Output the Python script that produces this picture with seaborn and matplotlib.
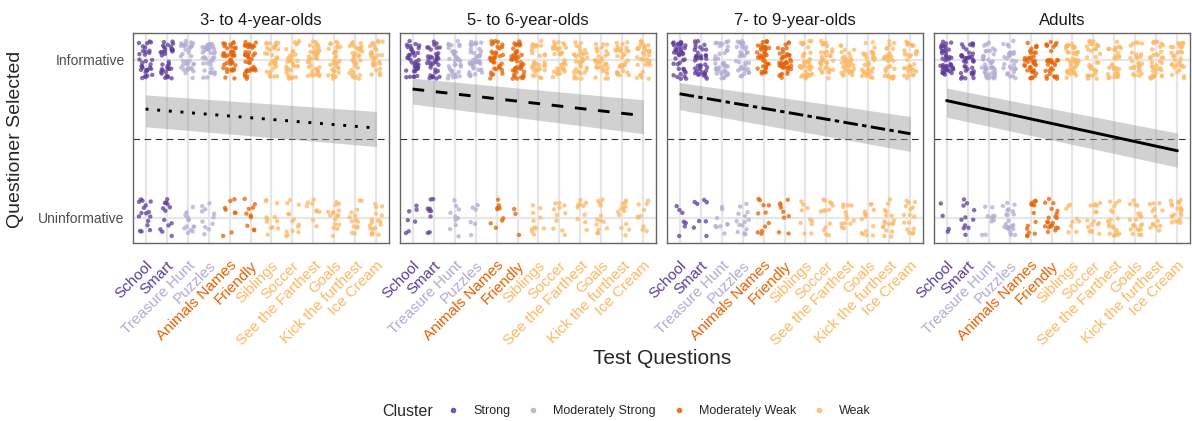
import numpy as np
import pandas as pd
import matplotlib
matplotlib.use("Agg")
import matplotlib.pyplot as plt
from matplotlib.lines import Line2D
import seaborn as sns

sns.set_style("white")
plt.rcParams['font.family'] = ['Liberation Sans', 'DejaVu Sans']

# ---------------- data ----------------
questions = ["School", "Smart", "Treasure Hunt", "Puzzles", "Animals Names", "Friendly",
             "Siblings", "Soccer", "See the Farthest", "Goals", "Kick the furthest", "Ice Cream"]
clusters = ["Strong", "Strong", "Moderately Strong", "Moderately Strong",
            "Moderately Weak", "Moderately Weak", "Weak", "Weak", "Weak", "Weak", "Weak", "Weak"]
cluster_order = ["Strong", "Moderately Strong", "Moderately Weak", "Weak"]
cluster_colors = ["#5e3c99", "#b2abd2", "#e66101", "#fdb863"]

groups = ["3- to 4-year-olds", "5- to 6-year-olds", "7- to 9-year-olds", "Adults"]

# informative / uninformative choice counts per question
informative_34 = [32, 35, 35, 37, 40, 38, 36, 34, 39, 32, 34, 30]
uninformative_34 = [16, 13, 13, 11, 8, 10, 12, 14, 9, 16, 14, 18]
informative_56 = [38, 36, 35, 39, 36, 42, 34, 34, 35, 32, 32, 35]
uninformative_56 = [7, 9, 10, 6, 9, 3, 11, 11, 10, 13, 13, 10]
informative_79 = [41, 40, 39, 34, 37, 39, 38, 34, 35, 34, 30, 32]
uninformative_79 = [7, 8, 9, 14, 11, 9, 10, 14, 13, 14, 18, 16]
informative_ad = [46, 39, 40, 28, 36, 30, 41, 33, 30, 28, 36, 30]
uninformative_ad = [4, 11, 10, 22, 14, 20, 9, 17, 20, 22, 14, 20]

# fitted probability line and 95% CI at first and last question
fit_start = [0.688, 0.815, 0.785, 0.742]
fit_end = [0.568, 0.646, 0.532, 0.424]
ci_low_start = [0.576, 0.720, 0.684, 0.637]
ci_high_start = [0.778, 0.884, 0.856, 0.821]
ci_low_end = [0.451, 0.532, 0.420, 0.320]
ci_high_end = [0.673, 0.747, 0.641, 0.536]
line_styles = [(0, (1, 3)), (0, (4, 4)), (0, (5, 1.5, 1.5, 1.5)), "-"]

informative = [informative_34, informative_56, informative_79, informative_ad]
uninformative = [uninformative_34, uninformative_56, uninformative_79, uninformative_ad]

# expand counts into individual responses (with jitter for display)
rng = np.random.default_rng(7)
rows = []
for g, grp in enumerate(groups):
    for q, (qname, cl) in enumerate(zip(questions, clusters)):
        for val, n in ((1, informative[g][q]), (0, uninformative[g][q])):
            for _ in range(n):
                rows.append(dict(group=grp, qi=q, cluster=cl, y=val))
df = pd.DataFrame(rows)
df["xj"] = df["qi"] + rng.uniform(-0.32, 0.32, len(df))
df["yj"] = df["y"] + rng.uniform(-0.12, 0.12, len(df))

palette = dict(zip(cluster_order, cluster_colors))
label_colors = [palette[c] for c in clusters]

# ---------------- figure ----------------
W, H = 1192, 421
fig = plt.figure(figsize=(W / 100, H / 100), dpi=100)
lefts = [133, 400, 667, 934]
pw = 256
top, bottom = 33, 243

for g, grp in enumerate(groups):
    ax = fig.add_axes([lefts[g] / W, (H - bottom) / H, pw / W, (bottom - top) / H])
    sub = df[df.group == grp]
    # grid
    for q in range(len(questions)):
        ax.axvline(q, color="#e6e6e6", lw=1.6, zorder=0)
    for yv in (0, 1):
        ax.axhline(yv, color="#e6e6e6", lw=1.6, zorder=0)
    ax.axhline(0.5, color="#333333", lw=0.8, ls=(0, (6, 4)), zorder=1)
    sns.scatterplot(data=sub, x="xj", y="yj", hue="cluster", hue_order=cluster_order,
                    palette=palette, s=10, alpha=0.75, linewidth=0, legend=False, ax=ax, zorder=2)
    xs = [0, len(questions) - 1]
    ax.fill_between(xs, [ci_low_start[g], ci_low_end[g]], [ci_high_start[g], ci_high_end[g]],
                    color="#999999", alpha=0.45, linewidth=0, zorder=3)
    sns.lineplot(x=xs, y=[fit_start[g], fit_end[g]], color="black", lw=2.1, ax=ax, zorder=4,
                 linestyle=line_styles[g])
    ax.set_xlim(-0.6, len(questions) - 0.4)
    ax.set_ylim(-0.16, 1.17)
    ax.set_xticks(range(len(questions)))
    ax.set_xticklabels(questions, rotation=45, ha="right", va="top", rotation_mode="anchor",
                       fontsize=11)
    for t, c in zip(ax.get_xticklabels(), label_colors):
        t.set_color(c)
    ax.set_yticks([0, 1])
    if g == 0:
        ax.set_yticklabels(["Uninformative", "Informative"], fontsize=10, color="#4d4d4d")
        ax.tick_params(axis="y", length=3, color="#333333", pad=3)
    else:
        ax.set_yticklabels([])
        ax.tick_params(axis="y", length=0)
    ax.tick_params(axis="x", length=4, width=1, color="#333333", pad=7)
    ax.set_xlabel("")
    ax.set_ylabel("")
    for sp in ax.spines.values():
        sp.set_color("#666666")
        sp.set_linewidth(1.0)
    ax.set_title(grp, fontsize=12, pad=6, color="#1a1a1a")

fig.text(16 / W, 1 - 139 / H, "Questioner Selected", rotation=90, ha="center", va="center",
         fontsize=14)
fig.text(662 / W, 1 - 358 / H, "Test Questions", ha="center", va="center", fontsize=15)

fig.text(382 / W, 1 - 411 / H, "Cluster", ha="left", va="center", fontsize=11.5)
handles = [Line2D([], [], marker="o", ls="", color=c, markersize=3, alpha=0.8)
           for c in cluster_colors]
fig.legend(handles, cluster_order, ncol=4, frameon=False, fontsize=9,
           loc="center left", bbox_to_anchor=(447 / W, 1 - 411 / H),
           borderpad=0, borderaxespad=0,
           handletextpad=1.12, columnspacing=1.3, handlelength=1.0)

fig.savefig("out.png", dpi=100)
